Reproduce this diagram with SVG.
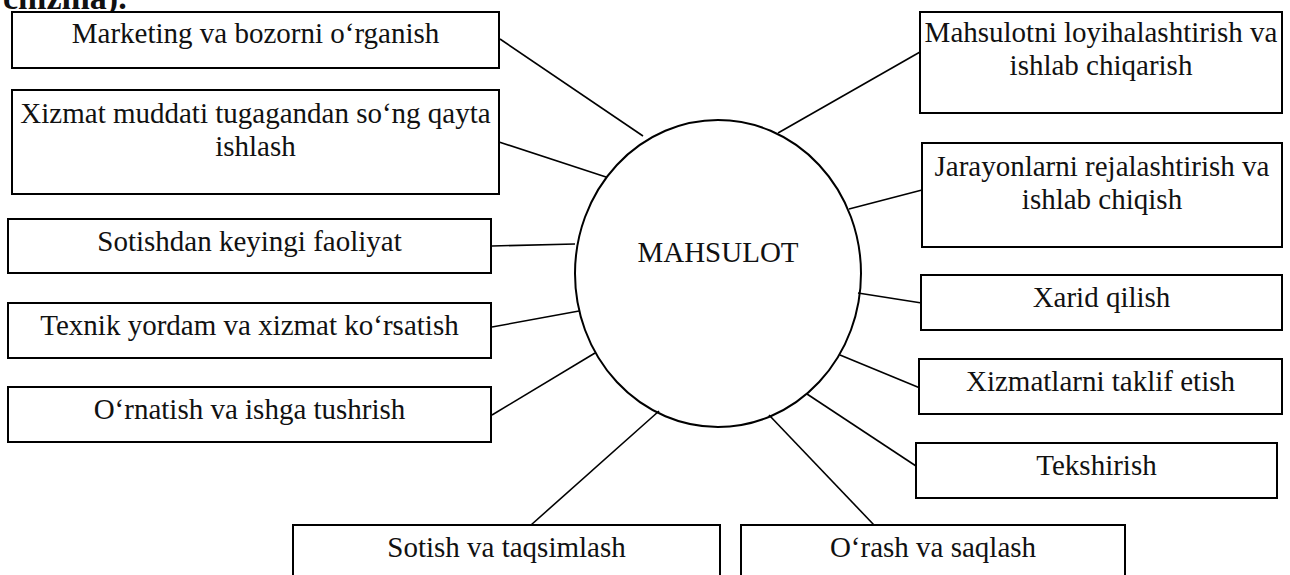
<svg xmlns="http://www.w3.org/2000/svg" width="1290" height="575" viewBox="0 0 1290 575">
<style>
.box{fill:#fff;stroke:#000;stroke-width:2}
.t{font-family:"Liberation Serif","Times New Roman",serif;font-size:29px;fill:#111;text-anchor:middle}
.ln{stroke:#000;stroke-width:1.6;fill:none}
</style>
<rect width="1290" height="575" fill="#fff"/>
<text x="3" y="9" style="font-family:'Liberation Serif',serif;font-size:34px;font-weight:bold;fill:#111">chizma).</text>
<g id="connectors">
<line class="ln" x1="500" y1="39" x2="643" y2="136"/>
<line class="ln" x1="499" y1="142" x2="606" y2="177"/>
<line class="ln" x1="492" y1="246" x2="575" y2="244"/>
<line class="ln" x1="492" y1="327" x2="579" y2="311"/>
<line class="ln" x1="492" y1="415" x2="595" y2="353"/>
<line class="ln" x1="778" y1="133" x2="920" y2="52"/>
<line class="ln" x1="849" y1="209" x2="922" y2="190"/>
<line class="ln" x1="858" y1="293" x2="928" y2="304"/>
<line class="ln" x1="840" y1="355" x2="920" y2="388"/>
<line class="ln" x1="807" y1="394" x2="916" y2="466"/>
<line class="ln" x1="659" y1="411" x2="531" y2="525"/>
<line class="ln" x1="769" y1="415" x2="874" y2="525"/>
</g>
<g id="center">
<ellipse cx="718" cy="273.5" rx="143" ry="153.5" fill="none" stroke="#000" stroke-width="2"/>
<text class="t" x="718" y="262">MAHSULOT</text>
</g>
<g id="n-marketing"><rect class="box" x="12" y="12" width="487" height="56"/><text class="t" x="255.5" y="43">Marketing va bozorni o‘rganish</text></g>
<g id="n-xizmat-muddati"><rect class="box" x="12" y="90" width="487" height="104"/><text class="t" x="255.5" y="123">Xizmat muddati tugagandan so‘ng qayta</text><text class="t" x="255.5" y="156">ishlash</text></g>
<g id="n-sotishdan"><rect class="box" x="8" y="219" width="483" height="54"/><text class="t" x="249.5" y="251">Sotishdan keyingi faoliyat</text></g>
<g id="n-texnik"><rect class="box" x="8" y="303" width="483" height="55"/><text class="t" x="249.5" y="335">Texnik yordam va xizmat ko‘rsatish</text></g>
<g id="n-ornatish"><rect class="box" x="8" y="387" width="483" height="55"/><text class="t" x="249.5" y="419">O‘rnatish va ishga tushrish</text></g>
<g id="n-mahsulotni"><rect class="box" x="920" y="12" width="362" height="101"/><text class="t" x="1101" y="42">Mahsulotni loyihalashtirish va</text><text class="t" x="1101" y="75">ishlab chiqarish</text></g>
<g id="n-jarayon"><rect class="box" x="922" y="143" width="360" height="104"/><text class="t" x="1102" y="176">Jarayonlarni rejalashtirish va</text><text class="t" x="1102" y="209">ishlab chiqish</text></g>
<g id="n-xarid"><rect class="box" x="921" y="275" width="361" height="55"/><text class="t" x="1101.5" y="307">Xarid qilish</text></g>
<g id="n-xizmatlar"><rect class="box" x="919" y="359" width="363" height="55"/><text class="t" x="1100.5" y="391">Xizmatlarni taklif etish</text></g>
<g id="n-tekshirish"><rect class="box" x="916" y="443" width="361" height="55"/><text class="t" x="1096.5" y="475">Tekshirish</text></g>
<g id="n-sotish"><rect class="box" x="293" y="525" width="427" height="80"/><text class="t" x="506.5" y="557">Sotish va taqsimlash</text></g>
<g id="n-orash"><rect class="box" x="741" y="525" width="384" height="80"/><text class="t" x="933" y="557">O‘rash va saqlash</text></g>
</svg>
